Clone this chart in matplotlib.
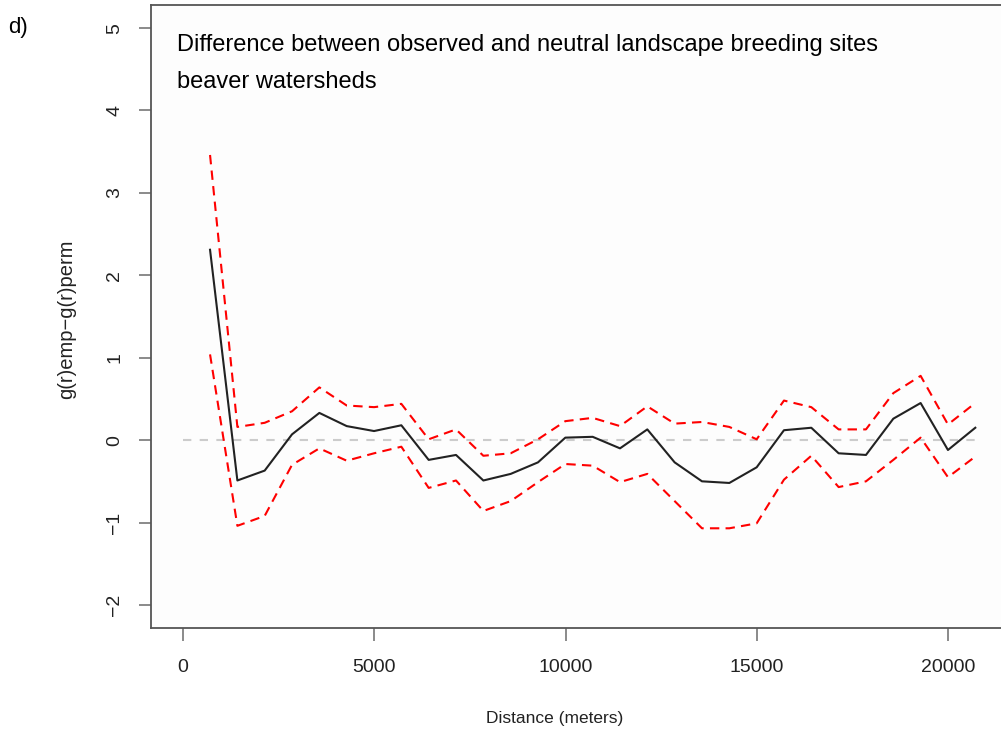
import matplotlib
matplotlib.use("Agg")
import matplotlib.pyplot as plt

plt.rcParams['font.family'] = ['Liberation Sans', 'DejaVu Sans']

# distance classes (m)
distance = [714, 1428, 2141, 2855, 3569, 4283, 4997, 5710, 6424, 7138,
            7852, 8566, 9279, 9993, 10707, 11421, 12134, 12848, 13562, 14276,
            14990, 15703, 16417, 17131, 17845, 18559, 19272, 19986, 20700]

# observed minus permuted pair-correlation
g_diff = [2.31, -0.49, -0.37, 0.07, 0.33, 0.17, 0.11, 0.18, -0.24, -0.18,
          -0.49, -0.41, -0.27, 0.03, 0.04, -0.10, 0.13, -0.27, -0.50, -0.52,
          -0.33, 0.12, 0.15, -0.16, -0.18, 0.26, 0.45, -0.12, 0.15]

# envelope bounds
upper = [3.46, 0.16, 0.21, 0.35, 0.64, 0.42, 0.40, 0.44, 0.01, 0.13,
         -0.19, -0.16, 0.01, 0.23, 0.27, 0.17, 0.41, 0.20, 0.22, 0.16,
         0.01, 0.48, 0.40, 0.13, 0.13, 0.57, 0.78, 0.19, 0.45]
lower = [1.04, -1.04, -0.92, -0.30, -0.10, -0.25, -0.16, -0.08, -0.58, -0.49,
         -0.86, -0.74, -0.51, -0.29, -0.31, -0.51, -0.41, -0.74, -1.07, -1.07,
         -1.01, -0.48, -0.19, -0.57, -0.50, -0.24, 0.03, -0.45, -0.20]

xticks = [0, 5000, 10000, 15000, 20000]
yticks = [-2, -1, 0, 1, 2, 3, 4, 5]

W, H = 1001, 731
fig = plt.figure(figsize=(W / 100, H / 100), dpi=100)

# axes box in pixel terms
left, right, top, bottom = 151, 1007, 5, 628
ax = fig.add_axes([left / W, 1 - bottom / H, (right - left) / W, (bottom - top) / H])
ax.set_facecolor('#fdfdfd')

# R-style 4% padding around the limits
xr = (0, 20700)
yr = (-2, 5)
dx = 0.04 * (xr[1] - xr[0])
dy = 0.04 * (yr[1] - yr[0])
ax.set_xlim(xr[0] - dx, xr[1] + dx)
ax.set_ylim(yr[0] - dy, yr[1] + dy)

ax.plot([0, distance[-1]], [0, 0], color='#cccccc', lw=1.5, dashes=(4, 4))
ax.plot(distance, upper, color='red', lw=1.5, dashes=(4.5, 3))
ax.plot(distance, lower, color='red', lw=1.5, dashes=(4.5, 3))
ax.plot(distance, g_diff, color='#222222', lw=1.5)

for s in ax.spines.values():
    s.set_color('#555555')
    s.set_linewidth(1.3)

ax.set_xticks(xticks)
ax.set_xticklabels([str(t) for t in xticks])
ax.set_yticks(yticks)
ax.set_yticklabels([str(t).replace('-', '\u2212') for t in yticks], rotation=90, va='center')
ax.tick_params(direction='out', length=9, width=1.2, color='#777777',
               labelsize=14, labelcolor='#222222')
ax.tick_params(axis='x', pad=13)
ax.tick_params(axis='y', pad=11)

ax.set_xlabel('Distance (meters)', fontsize=12.5, color='#222222')
ax.xaxis.set_label_coords((555 - left) / (right - left), -(718 - bottom) / (bottom - top), transform=ax.transAxes)
ax.xaxis.label.set_va('center')
ax.set_ylabel('g(r)emp\u2212g(r)perm', fontsize=14.5, color='#222222')
ax.yaxis.set_label_coords(-(151 - 67) / (right - left), (628 - 319) / (bottom - top), transform=ax.transAxes)
ax.yaxis.label.set_va('center')

fig.text(177 / W, 1 - 45 / H, 'Difference between observed and neutral landscape breeding sites',
         fontsize=17, va='center', ha='left', color='black')
fig.text(177 / W, 1 - 82 / H, 'beaver watersheds',
         fontsize=17, va='center', ha='left', color='black')
fig.text(8 / W, 1 - 28 / H, 'd)', fontsize=16, va='center', ha='left', color='black')

fig.savefig('out.png', dpi=100)
